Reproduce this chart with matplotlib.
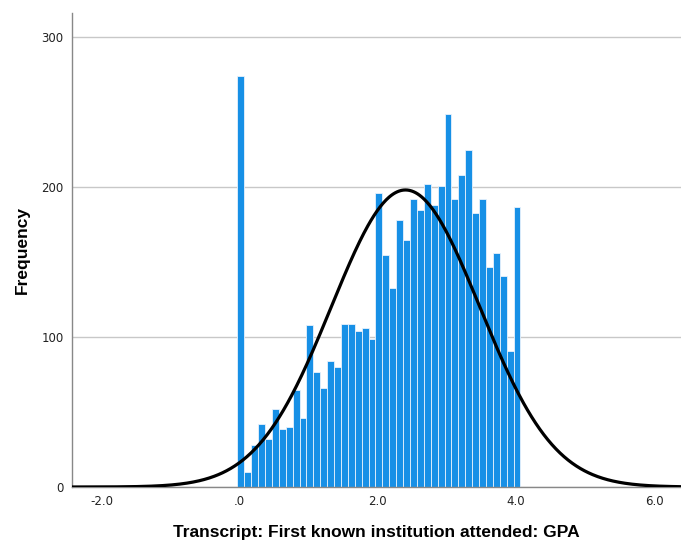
import numpy as np
import matplotlib
matplotlib.use("Agg")
import matplotlib.pyplot as plt

# Histogram bin left edge / width and frequencies
bin_start = -0.035
bin_width = 0.1
freqs = [274, 10, 28, 42, 32, 52, 39, 40, 65, 46,
         108, 77, 66, 84, 80, 109, 109, 104, 106, 99,
         196, 155, 133, 178, 165, 192, 185, 202, 188, 201,
         249, 192, 208, 225, 183, 192, 147, 156, 141, 91,
         187]
xticks = [-2.0, 0.0, 2.0, 4.0, 6.0]
xticklabels = ["-2.0", ".0", "2.0", "4.0", "6.0"]
yticks = [0, 100, 200, 300]
curve_mean = 2.40
curve_sd = 1.075

freqs = np.array(freqs, dtype=float)
lefts = bin_start + bin_width * np.arange(len(freqs))
N = freqs.sum()

fig = plt.figure(figsize=(6.81, 5.40), dpi=100)
ax = fig.add_axes([72/681, 1-487/540, (681-72)/681, (487-13)/540])

ax.bar(lefts, freqs, width=bin_width, align="edge", color="#1790E6",
       edgecolor="#e8f2fc", linewidth=0.6, zorder=2)

xs = np.linspace(-2.43, 6.39, 600)
ys = N * bin_width / (curve_sd * np.sqrt(2*np.pi)) * np.exp(-0.5*((xs-curve_mean)/curve_sd)**2)
ax.plot(xs, ys, color="black", linewidth=2.3, zorder=3)

ax.set_xlim(-2.43, 6.39)
ax.set_ylim(0, 316)
ax.set_xticks(xticks)
ax.set_xticklabels(xticklabels)
ax.set_yticks(yticks)
ax.yaxis.grid(True, color="#c8c8c8", linewidth=1.0, zorder=0)
ax.set_axisbelow(True)
ax.tick_params(length=0, labelsize=8.5, colors="#222222", pad=6)
for s in ["top", "right"]:
    ax.spines[s].set_visible(False)
for s in ["left", "bottom"]:
    ax.spines[s].set_color("#888888")
    ax.spines[s].set_linewidth(1.0)

ax.set_xlabel("Transcript: First known institution attended: GPA",
              fontsize=12.5, fontweight="bold", family="Liberation Sans", labelpad=12)
ax.set_ylabel("Frequency", fontsize=12.5, fontweight="bold", family="Liberation Sans", labelpad=8)

fig.savefig("out.png", dpi=100)
